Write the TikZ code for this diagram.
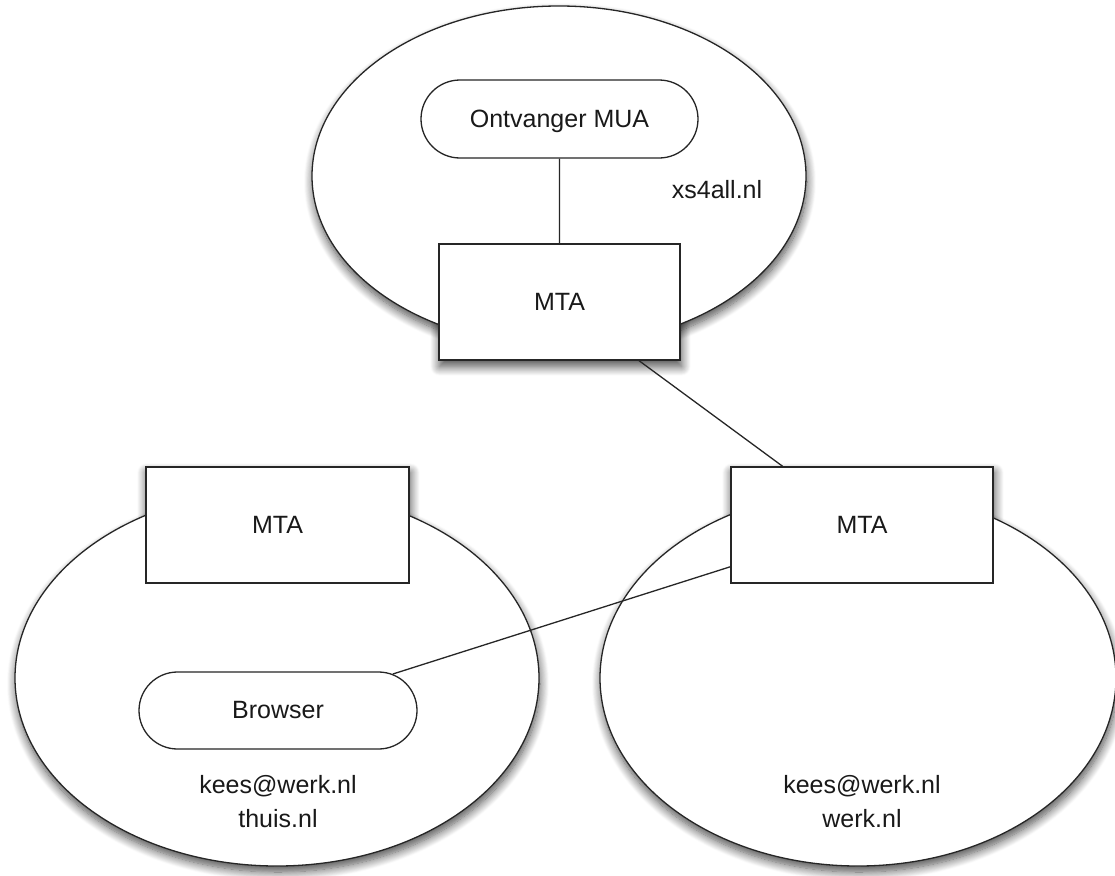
\documentclass[tikz,border=0pt]{standalone}
\usepackage{fontspec}
\setmainfont{Liberation Sans}
\usetikzlibrary{shapes.geometric,shapes.misc,shadows.blur}
\pgfdeclarelayer{shadowlayer}
\pgfsetlayers{shadowlayer,main}
\begin{document}
\begin{tikzpicture}[x=1pt,y=-1pt,
  every node/.style={font=\fontsize{25}{34}\selectfont, text=black!90, inner sep=0pt},
  outline/.style={line width=1.3pt, draw=black!85},
  region/.style={ellipse, outline, fill=white},
  mtabox/.style={rectangle, outline, fill=white, minimum height=116pt},
  pill/.style={rounded rectangle, outline, fill=white, minimum height=78pt, minimum width=277pt},
  softshade/.style={blur shadow={shadow xshift=1pt, shadow yshift=-6pt, shadow blur radius=9pt, shadow blur steps=12, shadow opacity=70}},
  link/.style={line width=1.3pt, draw=black!85}
]
\useasboundingbox (0,0) rectangle (1115,875);

% regions
\node[region, minimum width=494pt, minimum height=340pt] (ellTop) at (559,176) {};
\node[region, minimum width=524pt, minimum height=376pt] (ellLeft) at (277,678) {};
\node[region, minimum width=516pt, minimum height=376pt] (ellRight) at (858,678) {};

% top region content
\node[pill, text depth=0pt] (mua) at (559.5,119) {Ontvanger MUA};
\node[mtabox, minimum width=241pt] (mtaTop) at (559.5,302) {MTA};
\node[anchor=base] (xs) at (717,198) {xs4all.nl};

% bottom boxes
\node[mtabox, minimum width=263pt] (mtaLeft) at (277.5,525) {MTA};
\node[mtabox, minimum width=262pt] (mtaRight) at (862,525) {MTA};

% browser and labels
\node[pill, minimum height=77pt, minimum width=278pt] (browser) at (278,710.5) {Browser};
\node[align=center] (homeTxt) at (278,802) {kees@werk.nl\\thuis.nl};
\node[align=center] (workTxt) at (862,802) {kees@werk.nl\\werk.nl};

% connectors
\draw[link] (mua) -- (mtaTop);
\draw[link] (mtaTop) -- (mtaRight);
\draw[link] (browser) -- (mtaRight);

% shadows beneath everything
\begin{pgfonlayer}{shadowlayer}
  \path[softshade] (ellTop.center) ellipse [x radius=247, y radius=170];
  \path[softshade] (ellLeft.center) ellipse [x radius=262, y radius=188];
  \path[softshade] (ellRight.center) ellipse [x radius=258, y radius=188];
  \path[softshade] (mtaTop.south west) rectangle (mtaTop.north east);
  \path[softshade] (mtaLeft.south west) rectangle (mtaLeft.north east);
  \path[softshade] (mtaRight.south west) rectangle (mtaRight.north east);
\end{pgfonlayer}
\end{tikzpicture}
\end{document}
